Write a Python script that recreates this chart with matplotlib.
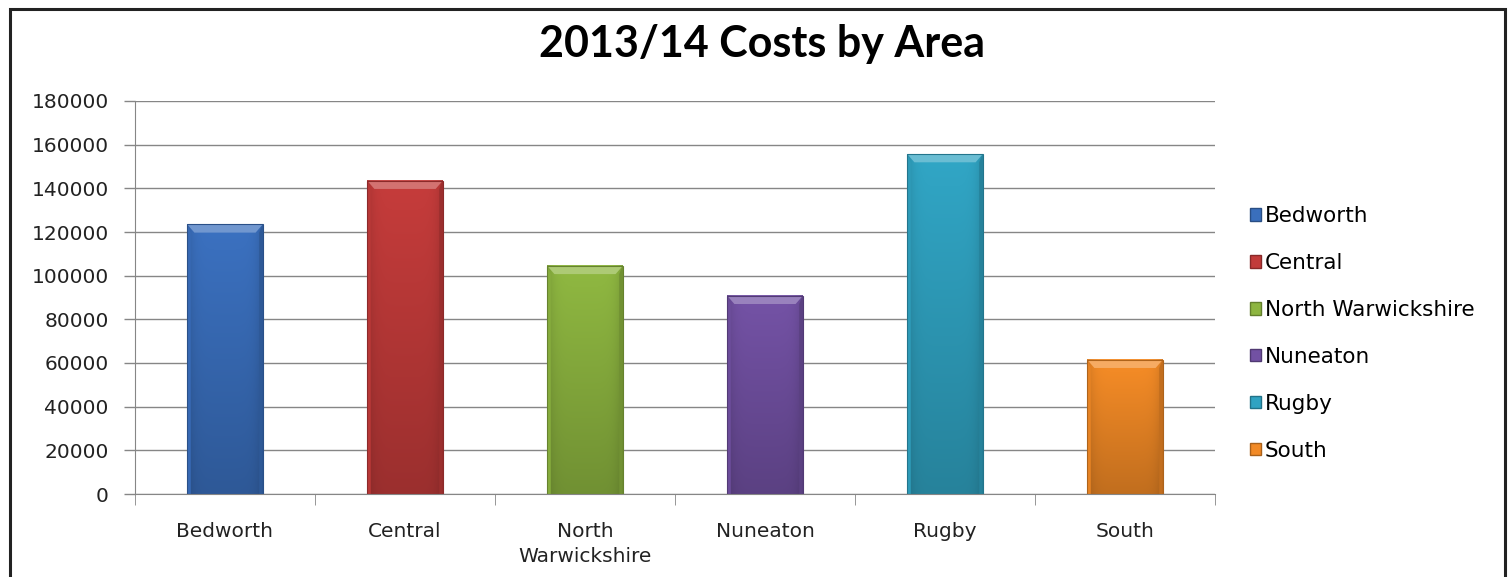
import numpy as np
import matplotlib.pyplot as plt
from matplotlib.patches import Rectangle, Polygon
from matplotlib.colors import to_rgb

# data
areas = ['Bedworth', 'Central', 'North Warwickshire', 'Nuneaton', 'Rugby', 'South']
tick_labels = ['Bedworth', 'Central', 'North\nWarwickshire', 'Nuneaton', 'Rugby', 'South']
costs = [123500, 143500, 104500, 90800, 155700, 61500]
colors = ['#3a6fbd', '#c23b3a', '#8db540', '#7251a3', '#30a3c2', '#f28a26']

plt.rcParams['font.family'] = ['DejaVu Sans']

fig = plt.figure(figsize=(15.08, 5.77), dpi=100)
ax = fig.add_axes([135 / 1508, 83 / 577, 1080 / 1508, 393 / 577])

# outer frame of the chart area
fig.patches.append(Rectangle((10 / 1508, -0.05), 1495 / 1508, 1.05 - 9 / 577,
                             transform=fig.transFigure, fill=False,
                             edgecolor='#222222', linewidth=2.2))

x = np.arange(len(areas))
width = 0.42


def shade(c, f):
    r = np.array(to_rgb(c))
    if f >= 1:
        return tuple(r + (1 - r) * (f - 1))
    return tuple(r * f)


for i, (v, c) in enumerate(zip(costs, colors)):
    x0, x1 = i - width / 2, i + width / 2
    # body: darker to the sides and towards the bottom
    nx, ny = 60, 100
    hx = np.linspace(-1, 1, nx)
    hy = np.linspace(0, 1, ny)[:, None]
    side = 1 - 0.15 * np.abs(hx) ** 6
    vert = 0.80 + 0.22 * hy
    fac = side[None, :] * vert
    base = np.array(to_rgb(c))
    img = np.clip(base[None, None, :] * fac[:, :, None], 0, 1)
    ax.imshow(img, extent=(x0, x1, 0, v), origin='lower', aspect='auto',
              interpolation='bilinear', zorder=2)
    # bevel on the top edge
    bev = 0.021 * 180000
    bx = 0.04
    ax.add_patch(Polygon([(x0, v), (x1, v), (x1 - bx, v - bev), (x0 + bx, v - bev)],
                         closed=True, facecolor=shade(c, 1.28), edgecolor='none', zorder=3))
    ax.add_patch(Polygon([(x0, v), (x0 + bx * 0.5, v - bev), (x0 + bx * 0.5, 0), (x0, 0)],
                         closed=True, facecolor=shade(c, 0.95), edgecolor='none', zorder=3))
    ax.add_patch(Polygon([(x1, v), (x1 - bx * 0.5, v - bev), (x1 - bx * 0.5, 0), (x1, 0)],
                         closed=True, facecolor=shade(c, 0.8), edgecolor='none', zorder=3))
    ax.add_patch(Rectangle((x0, 0), width, v, fill=False, edgecolor=shade(c, 0.72),
                           linewidth=0.8, zorder=4))

ax.set_xlim(-0.5, len(areas) - 0.5)
ax.set_ylim(0, 180000)
ax.set_yticks(np.arange(0, 180001, 20000))
ax.set_xticks(x)
ax.set_xticklabels(tick_labels, fontsize=14.5, color='#222222', linespacing=1.4)
ax.tick_params(axis='y', labelsize=14.5, colors='#222222', length=8, width=1,
               color='#868686', pad=11)
ax.tick_params(axis='x', length=0, pad=20)
ax.set_xticks(np.arange(-0.5, len(areas), 1), minor=True)
ax.tick_params(axis='x', which='minor', length=8, color='#868686')
ax.grid(axis='y', color='#868686', linewidth=1, zorder=0)
ax.set_axisbelow(True)
for s in ['top', 'right']:
    ax.spines[s].set_visible(False)
for s in ['left', 'bottom']:
    ax.spines[s].set_color('#868686')
ax.spines['bottom'].set_zorder(5)

fig.text(0.5055, 0.924, '2013/14 Costs by Area', ha='center', va='center',
         fontsize=31, fontweight='bold', color='black', family='Lato')

handles = [Rectangle((0, 0), 1, 1, facecolor=c, edgecolor=shade(c, 0.7)) for c in colors]
fig.legend(handles, areas, loc='center left', bbox_to_anchor=(1250 / 1508, 0.422),
           frameon=False, prop={'size': 15.5}, handlelength=0.5, handleheight=0.5,
           handletextpad=0.2, labelspacing=1.25, borderpad=0, borderaxespad=0)

fig.savefig('out.png', dpi=100)
